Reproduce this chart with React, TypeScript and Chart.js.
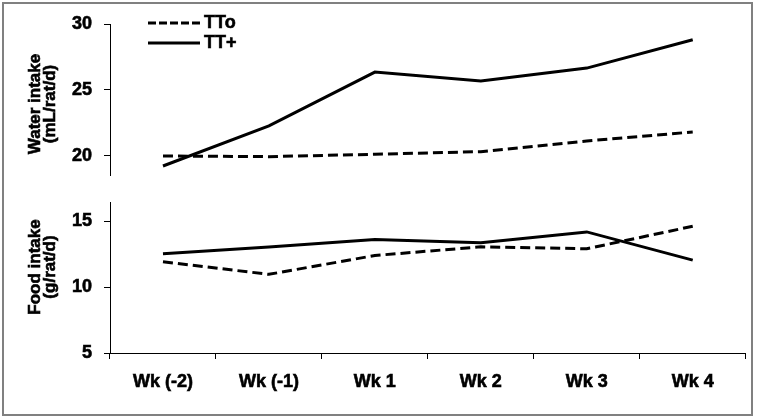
import React, { useEffect, useRef } from 'react';
import { Chart, registerables } from 'chart.js';

Chart.register(...registerables);

// ---- data ----
const weeks = ['Wk (-2)', 'Wk (-1)', 'Wk 1', 'Wk 2', 'Wk 3', 'Wk 4'];
const seriesNames = ['TTo', 'TT+'];
const waterTTo = [20.0, 19.95, 20.13, 20.33, 21.14, 21.82];
const waterTTplus = [19.24, 22.28, 26.36, 25.69, 26.66, 28.81];
const foodTTo = [11.92, 10.97, 12.4, 13.06, 12.91, 14.62];
const foodTTplus = [12.53, 13.04, 13.62, 13.36, 14.19, 12.05];
const waterTicks = [20, 25, 30];
const foodTicks = [5, 10, 15];
const waterRange = [18.56, 30];
const foodRange = [5, 16.46];
const waterTitle = ['Water intake', '(mL/rat/d)'];
const foodTitle = ['Food intake', '(g/rat/d)'];

const FONT = 'Arial, "Liberation Sans", sans-serif';
const DASH = [10, 5];
const STROKE = 0.6;

function yScale(ticks: number[], range: number[]) {
  return {
    type: 'linear',
    min: range[0],
    max: range[1],
    afterFit: (s: any) => {
      s.width = 110;
      s.paddingTop = 0;
      s.paddingBottom = 0;
    },
    afterBuildTicks: (s: any) => {
      s.ticks = ticks.map((v) => ({ value: v }));
    },
    grid: {
      display: true,
      drawOnChartArea: false,
      drawTicks: true,
      tickLength: 6,
      color: '#000',
      lineWidth: 1,
    },
    border: { display: true, color: '#000', width: 1 },
    ticks: {
      color: '#000',
      font: { family: FONT, size: 18, weight: 'bold' },
      padding: 12,
      textStrokeColor: '#000',
      textStrokeWidth: STROKE,
    },
    title: { display: false },
  };
}

function datasets(tto: number[], ttp: number[]) {
  return [
    {
      label: seriesNames[0],
      data: tto,
      borderColor: '#000',
      borderWidth: 3,
      borderDash: DASH,
      pointRadius: 0,
      tension: 0,
      fill: false,
    },
    {
      label: seriesNames[1],
      data: ttp,
      borderColor: '#000',
      borderWidth: 3,
      pointRadius: 0,
      tension: 0,
      fill: false,
    },
  ];
}

const axisTitlePlugin = {
  id: 'axisTitle',
  afterDraw(chart: any, _args: any, opts: any) {
    const ctx = chart.ctx;
    ctx.save();
    ctx.font = `bold 17px ${FONT}`;
    ctx.fillStyle = '#000';
    ctx.strokeStyle = '#000';
    ctx.lineWidth = STROKE;
    ctx.textAlign = 'center';
    ctx.textBaseline = 'middle';
    (opts.lines as string[]).forEach((t, i) => {
      ctx.save();
      ctx.translate(opts.x[i], opts.y);
      ctx.rotate(-Math.PI / 2);
      ctx.fillText(t, 0, 0);
      ctx.strokeText(t, 0, 0);
      ctx.restore();
    });
    ctx.restore();
  },
};

const legendPlugin = {
  id: 'lineLegend',
  afterDraw(chart: any) {
    const ctx = chart.ctx;
    ctx.save();
    chart.data.datasets.forEach((ds: any, i: number) => {
      const y = 23 + i * 20;
      ctx.beginPath();
      ctx.setLineDash(ds.borderDash ? [8, 3] : []);
      ctx.lineWidth = 3;
      ctx.strokeStyle = '#000';
      ctx.moveTo(148, y);
      ctx.lineTo(200, y);
      ctx.stroke();
      ctx.setLineDash([]);
      ctx.fillStyle = '#000';
      ctx.lineWidth = STROKE;
      ctx.font = `bold 18px ${FONT}`;
      ctx.textBaseline = 'middle';
      ctx.textAlign = 'left';
      ctx.fillText(ds.label, 204, y);
      ctx.strokeText(ds.label, 204, y);
    });
    ctx.restore();
  },
};

export default function App() {
  const topRef = useRef<HTMLCanvasElement>(null);
  const botRef = useRef<HTMLCanvasElement>(null);

  useEffect(() => {
    const top = new Chart(topRef.current as HTMLCanvasElement, {
      type: 'line',
      data: { labels: weeks, datasets: datasets(waterTTo, waterTTplus) as any },
      options: {
        animation: false,
        responsive: true,
        maintainAspectRatio: false,
        layout: { padding: { left: 0, top: 24, right: 11.3, bottom: 15 } },
        plugins: {
          legend: { display: false },
          tooltip: { enabled: false },
          axisTitle: { lines: waterTitle, x: [35, 50], y: 104 },
        } as any,
        scales: {
          x: { type: 'category', offset: true, display: false },
          y: yScale(waterTicks, waterRange) as any,
        },
      },
      plugins: [legendPlugin, axisTitlePlugin],
    });

    const bot = new Chart(botRef.current as HTMLCanvasElement, {
      type: 'line',
      data: { labels: weeks, datasets: datasets(foodTTo, foodTTplus) as any },
      options: {
        animation: false,
        responsive: true,
        maintainAspectRatio: false,
        layout: { padding: { left: 0, top: 12, right: 11.3, bottom: 0 } },
        plugins: {
          legend: { display: false },
          tooltip: { enabled: false },
          axisTitle: { lines: foodTitle, x: [35, 50], y: 77 },
        } as any,
        scales: {
          x: {
            type: 'category',
            offset: true,
            afterFit: (s: any) => {
              s.height = 66;
              s.paddingLeft = 0;
              s.paddingRight = 0;
            },
            grid: {
              display: true,
              offset: true,
              drawOnChartArea: false,
              drawTicks: true,
              tickLength: 6,
              color: '#000',
              lineWidth: 1,
            },
            border: { display: true, color: '#000', width: 1 },
            ticks: {
              color: '#000',
              font: { family: FONT, size: 18, weight: 'bold' },
              padding: 12,
              maxRotation: 0,
              autoSkip: false,
              textStrokeColor: '#000',
              textStrokeWidth: STROKE,
            },
          },
          y: yScale(foodTicks, foodRange) as any,
        },
      },
      plugins: [axisTitlePlugin],
    });

    return () => {
      top.destroy();
      bot.destroy();
    };
  }, []);

  return (
    <div
      style={{
        position: 'fixed',
        left: 0,
        top: 0,
        width: 757,
        height: 419,
        background: '#fff',
        overflow: 'hidden',
      }}
    >
      <div style={{ position: 'absolute', left: 0, top: 0, width: 757, height: 190 }}>
        <canvas ref={topRef} />
      </div>
      <div style={{ position: 'absolute', left: 0, top: 190, width: 757, height: 229 }}>
        <canvas ref={botRef} />
      </div>
      <div
        style={{
          position: 'absolute',
          left: 2,
          top: 2,
          width: 751,
          height: 414,
          boxSizing: 'border-box',
          border: '2px solid #808080',
          pointerEvents: 'none',
        }}
      />
    </div>
  );
}
